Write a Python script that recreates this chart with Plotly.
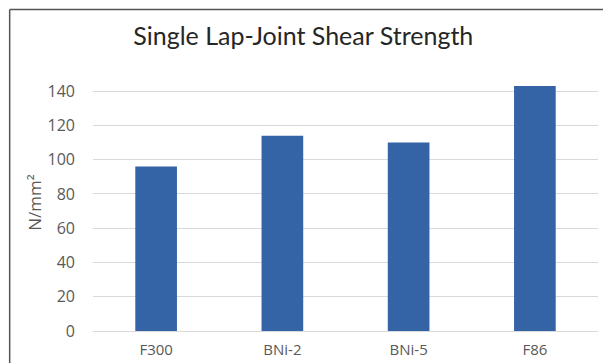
import plotly.graph_objects as go

# Shear strength of single lap joints by filler alloy
categories = ["F300", "BNi-2", "BNi-5", "F86"]
strength = [96, 114, 110, 143]
y_ticks = [0, 20, 40, 60, 80, 100, 120, 140]

BAR_COLOR = "#3463A6"
TEXT_COLOR = "#595959"
TITLE_FONT = "Lato, Carlito, Calibri, sans-serif"
AXIS_FONT = "Open Sans, Noto Sans, sans-serif"

fig = go.Figure(
    go.Bar(
        x=categories,
        y=strength,
        marker=dict(color=BAR_COLOR, line=dict(width=0)),
    )
)

fig.update_layout(
    width=603,
    height=363,
    margin=dict(l=93, r=5, t=74, b=32),
    paper_bgcolor="white",
    plot_bgcolor="white",
    bargap=0.67,
    showlegend=False,
    font=dict(family=AXIS_FONT, color=TEXT_COLOR, size=15),
    title=dict(
        text="Single Lap-Joint Shear Strength",
        x=0.503,
        xanchor="center",
        y=0.9,
        yanchor="middle",
        font=dict(family=TITLE_FONT, size=25, color="#262626"),
    ),
    xaxis=dict(
        showgrid=False,
        showline=False,
        ticks="",
        tickfont=dict(family=AXIS_FONT, size=15, color=TEXT_COLOR),
        ticklabelstandoff=8,
    ),
    yaxis=dict(
        range=[0, 150],
        tickvals=y_ticks,
        showgrid=True,
        gridcolor="#D9D9D9",
        gridwidth=1,
        zeroline=True,
        zerolinecolor="#D9D9D9",
        zerolinewidth=1,
        showline=False,
        ticks="",
        ticklabelstandoff=17,
        tickfont=dict(family=AXIS_FONT, size=16, color=TEXT_COLOR),
        title=dict(text="N/mm²", font=dict(family=AXIS_FONT, size=17, color=TEXT_COLOR), standoff=1),
    ),
    shapes=[
        # chart frame (left and top edges)
        dict(
            type="line", xref="paper", yref="paper",
            x0=-0.165, x1=-0.165, y0=1.251, y1=-0.2,
            line=dict(color="#555555", width=1.5),
        ),
        dict(
            type="line", xref="paper", yref="paper",
            x0=-0.165, x1=1.02, y0=1.251, y1=1.251,
            line=dict(color="#555555", width=1.5),
        ),
    ],
)

fig.write_html("out.html")
